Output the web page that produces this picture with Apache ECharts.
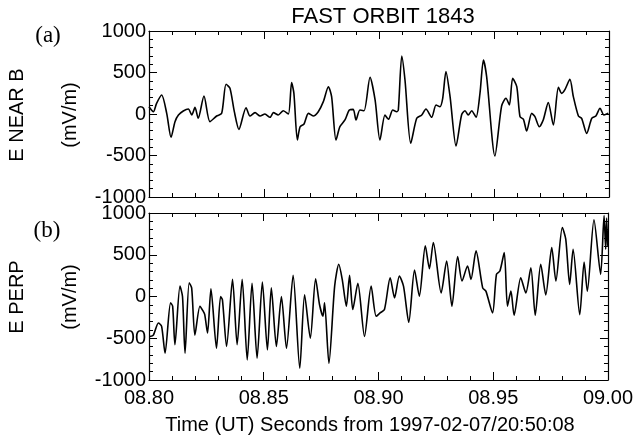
<!DOCTYPE html>
<html>
<head>
<meta charset="utf-8">
<script src="https://cdn.jsdelivr.net/npm/echarts@6/dist/echarts.min.js"></script>
<style>html,body{margin:0;padding:0;background:#fff}#c{width:636px;height:436px}</style>
</head>
<body>
<div id="c"></div>
<script>
// Panel (a): E NEAR B
var timeA = [8.8000,8.8019,8.8033,8.8055,8.8077,8.8096,8.8113,8.8128,8.8149,8.8171,8.8186,8.8200,8.8214,8.8239,8.8265,8.8294,8.8316,8.8335,8.8352,8.8371,8.8391,8.8422,8.8439,8.8461,8.8483,8.8504,8.8526,8.8541,8.8562,8.8584,8.8606,8.8620,8.8630,8.8645,8.8657,8.8674,8.8693,8.8714,8.8736,8.8758,8.8780,8.8794,8.8813,8.8830,8.8852,8.8871,8.8888,8.8900,8.8917,8.8935,8.8961,8.8983,8.9004,8.9026,8.9041,8.9060,8.9077,8.9084,8.9099,8.9113,8.9138,8.9164,8.9186,8.9204,8.9229,8.9248,8.9265,8.9277,8.9291,8.9309,8.9335,8.9359,8.9374,8.9388,8.9403,8.9422,8.9439,8.9454,8.9468,8.9504,8.9533,8.9552,8.9567,8.9581,8.9599,8.9613,8.9628,8.9642,8.9664,8.9678,8.9697,8.9714,8.9736,8.9758,8.9780,8.9794,8.9809,8.9830,8.9845,8.9867,8.9881,8.9903,8.9925,8.9943,8.9961,8.9978,8.9997];
var eNearB = [88,28,129,229,8,-281,-92,-12,36,60,-12,80,-52,217,-92,-24,8,358,309,28,-185,76,-24,16,-24,0,-40,16,-12,40,0,378,249,-313,-153,-120,8,-24,28,149,329,209,-313,-153,-72,48,56,-72,48,40,442,169,-313,-12,-64,48,28,48,699,410,-353,-52,-12,60,-40,108,88,189,510,209,-386,-12,40,-12,40,-40,249,651,450,-506,96,189,108,430,329,-32,-64,-205,8,-32,-153,-72,137,-133,321,249,297,418,209,-24,-52,-233,-52,-24,69,-12,8];

// Panel (b): E PERP
var timeB = [8.8004,8.8019,8.8041,8.8055,8.8070,8.8094,8.8103,8.8113,8.8135,8.8146,8.8157,8.8175,8.8186,8.8200,8.8222,8.8236,8.8243,8.8255,8.8270,8.8294,8.8312,8.8320,8.8338,8.8364,8.8384,8.8406,8.8428,8.8449,8.8471,8.8494,8.8516,8.8533,8.8555,8.8577,8.8599,8.8628,8.8657,8.8678,8.8703,8.8726,8.8743,8.8758,8.8765,8.8784,8.8809,8.8827,8.8842,8.8860,8.8874,8.8888,8.8910,8.8939,8.8968,8.8990,8.9007,8.9026,8.9051,8.9070,8.9091,8.9109,8.9132,8.9157,8.9178,8.9204,8.9222,8.9239,8.9273,8.9297,8.9320,8.9345,8.9364,8.9388,8.9403,8.9425,8.9454,8.9468,8.9497,8.9514,8.9529,8.9548,8.9562,8.9577,8.9591,8.9620,8.9642,8.9664,8.9683,8.9707,8.9729,8.9755,8.9773,8.9801,8.9816,8.9833,8.9848,8.9877,8.9896,8.9910,8.9939,8.9968,8.9983,8.9990,8.9994,8.9999];
var ePerp = [-478,-462,-317,-357,-679,-76,-116,-578,124,0,-679,165,100,-462,-116,-176,-217,-438,92,-619,0,-40,-598,205,-578,205,-759,157,-739,173,-639,104,-598,0,-619,253,-860,20,-498,213,-96,-237,-76,-799,124,386,205,-116,253,-156,157,-478,124,-237,-197,-156,225,-16,245,124,-309,317,4,606,333,647,44,426,-116,478,185,366,205,546,104,64,-197,265,305,526,-116,64,-225,225,44,345,-225,386,20,586,185,827,687,145,566,-217,414,64,920,265,968,566,940,606];

var yTicks = [-1000,-500,0,500,1000];
var xTickLabels = ['08.80','08.85','08.90','08.95','09.00'];

var FONT = 'Liberation Sans';
var fs = 20;

function pairs(t, v){ var out=[]; for (var i=0;i<t.length;i++) out.push([t[i], v[i]]); return out; }

var grids = [
  {left:149, right:27, top:31, height:166},
  {left:149, right:27, top:213, height:167}
];

function xAx(gi, pos, showLabels){
  return {
    type:'value', gridIndex:gi, position:pos, min:8.80, max:9.00, interval:0.05,
    axisLine:{show:true, onZero:false, lineStyle:{color:'#000', width:1.2}},
    axisTick:{show:true, inside:true, length:8, lineStyle:{color:'#000', width:1}},
    minorTick:{show:true, splitNumber:5, length:4, lineStyle:{color:'#000', width:1}},
    splitLine:{show:false},
    axisLabel:{show:showLabels, color:'#000', fontFamily:FONT, fontSize:fs, margin:8,
      formatter:function(v){ var i=Math.round((v-8.80)/0.05); return xTickLabels[i]; }}
  };
}
function yAx(gi, pos, showLabels){
  return {
    type:'value', gridIndex:gi, position:pos, min:-1000, max:1000, interval:500,
    axisLine:{show:true, onZero:false, lineStyle:{color:'#000', width:1.2}},
    axisTick:{show:true, inside:true, length:8, lineStyle:{color:'#000', width:1}},
    minorTick:{show:true, splitNumber:5, length:4, lineStyle:{color:'#000', width:1}},
    splitLine:{show:false},
    axisLabel:{show:showLabels, color:'#000', fontFamily:FONT, fontSize:fs, margin:3,
      formatter:function(v){ var i=Math.round((v+1000)/500); return String(yTicks[i]); }}
  };
}

var chart = echarts.init(document.getElementById('c'), null, {renderer:'canvas'});
chart.setOption({
  animation:false,
  backgroundColor:'#fff',
  title:{text:'FAST ORBIT 1843', left:378, top:1, textAlign:'center',
    textStyle:{fontFamily:FONT, fontSize:22, fontWeight:'normal', color:'#000'}},
  grid:grids,
  xAxis:[xAx(0,'bottom',false), xAx(0,'top',false), xAx(1,'bottom',true), xAx(1,'top',false)],
  yAxis:[yAx(0,'left',true), yAx(0,'right',false), yAx(1,'left',true), yAx(1,'right',false)],
  series:[
    {type:'line', xAxisIndex:0, yAxisIndex:0, data:pairs(timeA,eNearB), showSymbol:false, symbol:'none',
      lineStyle:{color:'#000', width:1.6}, smooth:0.25},
    {type:'line', xAxisIndex:2, yAxisIndex:2, data:pairs(timeB,ePerp), showSymbol:false, symbol:'none',
      lineStyle:{color:'#000', width:1.6}, smooth:0.25}
  ],
  graphic:[
    {type:'text', x:48, y:36, style:{text:'(a)', fontFamily:'Liberation Serif', fontSize:23, fill:'#000', align:'center', verticalAlign:'middle'}},
    {type:'text', x:47, y:231, style:{text:'(b)', fontFamily:'Liberation Serif', fontSize:23, fill:'#000', align:'center', verticalAlign:'middle'}},
    {type:'text', x:17, y:115, rotation:Math.PI/2, style:{text:'E NEAR B', fontFamily:FONT, fontSize:fs, fill:'#000', align:'center', verticalAlign:'middle'}},
    {type:'text', x:70, y:115, rotation:Math.PI/2, style:{text:'(mV/m)', fontFamily:FONT, fontSize:fs, fill:'#000', align:'center', verticalAlign:'middle'}},
    {type:'text', x:17, y:297, rotation:Math.PI/2, style:{text:'E PERP', fontFamily:FONT, fontSize:fs, fill:'#000', align:'center', verticalAlign:'middle'}},
    {type:'text', x:70, y:297, rotation:Math.PI/2, style:{text:'(mV/m)', fontFamily:FONT, fontSize:fs, fill:'#000', align:'center', verticalAlign:'middle'}},
    {type:'text', x:370, y:425, style:{text:'Time (UT) Seconds from 1997-02-07/20:50:08', fontFamily:FONT, fontSize:fs, fill:'#000', align:'center', verticalAlign:'middle'}}
  ]
});
</script>
</body>
</html>
